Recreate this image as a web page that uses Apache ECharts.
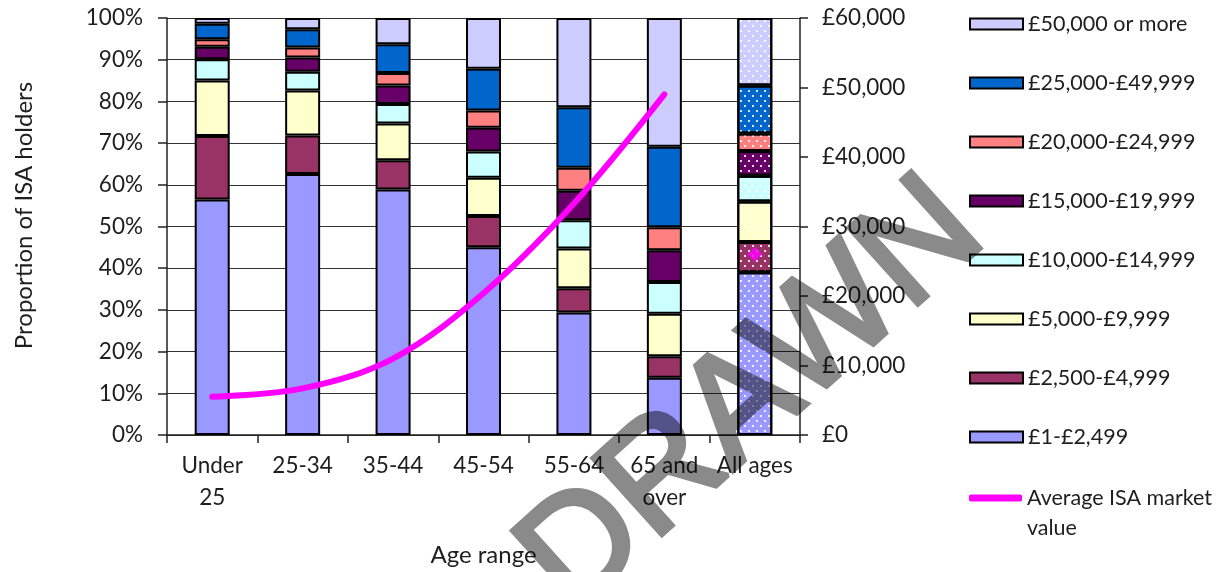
<!DOCTYPE html>
<html>
<head>
<meta charset="utf-8">
<script src="https://cdn.jsdelivr.net/npm/echarts@6/dist/echarts.min.js"></script>
<style>
  html, body { margin: 0; padding: 0; background: #fff; }
  #chart { width: 1228px; height: 572px; isolation: isolate; }
  /* the stamp sits on its own canvas layer and darkens whatever is beneath it */
  #chart canvas[data-zr-dom-id="zr_10"] { mix-blend-mode: multiply; }
</style>
</head>
<body>
<div id="chart"></div>
<script>
// Age bands along the category axis
const categories = ['Under 25', '25-34', '35-44', '45-54', '55-64', '65 and over', 'All ages'];
const categoryLabels = ['Under\n25', '25-34', '35-44', '45-54', '55-64', '65 and\nover', 'All ages'];

// Share of ISA holders (%) in each market-value band, bottom band first
const bandNames = ['£1-£2,499', '£2,500-£4,999', '£5,000-£9,999', '£10,000-£14,999',
                   '£15,000-£19,999', '£20,000-£24,999', '£25,000-£49,999', '£50,000 or more'];
const band1to2499     = [56.5, 62.6, 58.9, 45.0, 29.4, 13.7, 39.0];
const band2500to4999  = [15.2,  9.2,  7.0,  7.5,  5.8,  5.2,  7.3];
const band5000to9999  = [13.3, 10.8,  8.8,  9.2,  9.5, 10.2,  9.7];
const band10000to14999 = [5.1,  4.5,  4.7,  6.3,  6.8,  7.6,  6.2];
const band15000to19999 = [3.0,  3.4,  4.4,  5.7,  7.1,  7.6,  5.9];
const band20000to24999 = [1.8,  2.4,  3.0,  4.1,  5.5,  5.5,  4.2];
const band25000to49999 = [3.7,  4.4,  6.9, 10.0, 14.5, 19.3, 11.5];
const band50000plus    = [1.4,  2.7,  6.3, 12.2, 21.4, 30.9, 16.2];

// Average ISA market value (£) by age band; the all-ages figure is shown as a lone marker
const lineName = 'Average ISA market value';
const averageValue = [5500, 6700, 11000, 20400, 33300, 49000];
const averageAllAges = 26000;

// Axis tick values
const percentTicks = { min: 0, max: 100, step: 10 };
const poundTicks = { min: 0, max: 60000, step: 10000 };

const bandData = [band1to2499, band2500to4999, band5000to9999, band10000to14999,
                  band15000to19999, band20000to24999, band25000to49999, band50000plus];
const bandColors = ['#9999FF', '#993366', '#FFFFCC', '#CCFFFF',
                    '#660066', '#FF8080', '#0066CC', '#CCCCFF'];

const FONT = 'Lato';
const TEXT = '#1e1e1e';

// Dotted fill used for the "All ages" column
const dotDecal = {
  symbol: 'rect',
  symbolSize: 1,
  color: 'rgba(255,255,255,0.85)',
  dashArrayX: [[1.6, 5.6], [0, 3.6, 1.6, 2]],
  dashArrayY: [1.6, 2.6]
};

const barSeries = bandNames.map((name, k) => ({
  name: name,
  type: 'bar',
  stack: 'holders',
  barWidth: 35,
  yAxisIndex: 0,
  itemStyle: { color: bandColors[k], borderColor: '#000', borderWidth: 2 },
  data: bandData[k].map((v, i) =>
    categories[i] === 'All ages' ? { value: v, itemStyle: { decal: dotDecal } } : v)
}));

const lineValues = categories.map((c, i) => i < averageValue.length ? averageValue[i] : null);
const markerValues = categories.map(c => c === 'All ages' ? averageAllAges : null);

const chart = echarts.init(document.getElementById('chart'), null, { renderer: 'canvas' });

chart.setOption({
  animation: false,
  aria: { enabled: false },
  textStyle: { fontFamily: FONT },
  grid: { left: 167, right: 428, top: 18, bottom: 137, containLabel: false },
  legend: [
    {
      orient: 'vertical',
      left: 964,
      top: 8,
      itemWidth: 53,
      itemHeight: 11,
      itemGap: 37,
      selectedMode: false,
      icon: 'rect',
      itemStyle: { borderColor: '#000', borderWidth: 2 },
      textStyle: { fontFamily: FONT, fontSize: 21.5, color: TEXT, lineHeight: 22 },
      data: bandNames.slice().reverse()
    },
    {
      orient: 'vertical',
      left: 964,
      top: 448,
      itemWidth: 53,
      itemHeight: 7,
      selectedMode: false,
      textStyle: { fontFamily: FONT, fontSize: 21.5, color: TEXT, lineHeight: 30 },
      formatter: n => n === lineName ? '\nAverage ISA market\nvalue' : n,
      data: [{ name: lineName, icon: 'roundRect', itemStyle: { color: '#FF00FF', borderWidth: 0 } }]
    }
  ],
  xAxis: {
    type: 'category',
    data: categories,
    name: 'Age range',
    nameLocation: 'middle',
    nameGap: 108,
    nameTextStyle: { fontFamily: FONT, fontSize: 24, color: TEXT },
    axisLine: { lineStyle: { color: '#222', width: 1.5 } },
    axisTick: { show: true, length: 8, lineStyle: { color: '#222', width: 1.5 } },
    axisLabel: {
      interval: 0,
      margin: 15,
      fontFamily: FONT,
      fontSize: 22.5,
      lineHeight: 32,
      color: TEXT,
      formatter: (v, i) => categoryLabels[i]
    }
  },
  yAxis: [
    {
      type: 'value',
      min: percentTicks.min,
      max: percentTicks.max,
      interval: percentTicks.step,
      name: 'Proportion of ISA holders',
      nameLocation: 'middle',
      nameGap: 131,
      nameTextStyle: { fontFamily: FONT, fontSize: 24, color: TEXT, padding: [0, 0, 0, 22] },
      axisLine: { show: true, lineStyle: { color: '#222', width: 1.5 } },
      axisTick: { show: true, length: 9, lineStyle: { color: '#222', width: 1.5 } },
      axisLabel: { margin: 24, fontFamily: FONT, fontSize: 22.5, color: TEXT, formatter: '{value}%' },
      splitLine: { show: true, lineStyle: { color: '#333', width: 1 } }
    },
    {
      type: 'value',
      position: 'right',
      min: poundTicks.min,
      max: poundTicks.max,
      interval: poundTicks.step,
      axisLine: { show: true, lineStyle: { color: '#222', width: 1.5 } },
      axisTick: { show: true, length: 8, lineStyle: { color: '#222', width: 1.5 } },
      axisLabel: {
        margin: 22, fontFamily: FONT, fontSize: 22.5, color: TEXT,
        formatter: v => '£' + v.toLocaleString('en-GB')
      },
      splitLine: { show: false }
    }
  ],
  series: barSeries.concat([
    {
      name: lineName,
      type: 'line',
      yAxisIndex: 1,
      smooth: 0.35,
      showSymbol: false,
      symbol: 'none',
      connectNulls: false,
      lineStyle: { color: '#FF00FF', width: 6, cap: 'round', join: 'round' },
      itemStyle: { color: '#FF00FF' },
      z: 5,
      data: lineValues
    },
    {
      name: lineName,
      type: 'scatter',
      yAxisIndex: 1,
      symbol: 'diamond',
      symbolSize: 15,
      itemStyle: { color: '#FF00FF' },
      z: 6,
      data: markerValues
    }
  ]),
  graphic: [
    {
      type: 'text',
      zlevel: 10,
      x: 753,
      y: 397,
      rotation: 42 * Math.PI / 180,
      silent: true,
      style: {
        text: 'DRAWN',
        font: '150px "Liberation Sans", "DejaVu Sans", sans-serif',
        fill: '#8a8a8a',
        stroke: '#8a8a8a',
        lineWidth: 5,
        lineJoin: 'miter',
        textAlign: 'center',
        textVerticalAlign: 'middle'
      }
    }
  ]
});
</script>
</body>
</html>
